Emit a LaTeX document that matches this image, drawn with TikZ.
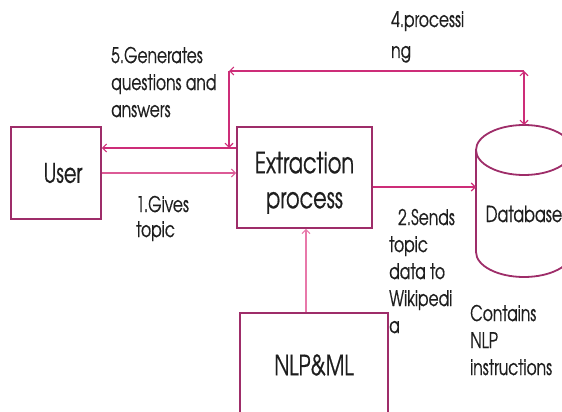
\documentclass[tikz,border=0pt]{standalone}
\usepackage{fontspec}
\setmainfont{texgyreadventor-regular.otf}[FakeStretch=0.72,FakeBold=0.6]
\usetikzlibrary{arrows.meta}
\definecolor{boxc}{RGB}{158,45,105}
\definecolor{flowc}{RGB}{205,45,120}
\definecolor{flowmid}{RGB}{220,90,150}
\definecolor{flowlight}{RGB}{232,120,170}
\definecolor{inkc}{RGB}{30,30,30}
\tikzset{
  box/.style={draw=boxc, line width=1.8pt, inner sep=0pt, text=inkc},
  flow/.style={draw=flowc, line width=1.1pt, -{Straight Barb[length=4pt,width=8pt]}},
  lbl/.style={font=\fontsize{21.5}{27}\selectfont, align=left, anchor=base west, inner sep=0pt, text=inkc}
}
\begin{document}
\begin{tikzpicture}[x=1pt,y=-1pt]
\useasboundingbox (0,0) rectangle (562,412);
\clip (0,0) rectangle (562,412);

% boxes
\node[box, minimum width=90pt, minimum height=92pt, font=\fontsize{27}{27}\selectfont] (user) at (56,173) {\hspace*{14pt}User};
\node[box, minimum width=135pt, minimum height=101pt, align=center, font=\fontsize{29}{35}\selectfont] (extr) at (304.5,177.5) {\rule{0pt}{32pt}Extraction\\process};
\node[box, minimum width=148pt, minimum height=104pt, font=\fontsize{28}{28}\selectfont] (nlp) at (314,365) {NLP\&ML};

% database cylinder
\draw[boxc, line width=1.8pt] (524,150) ellipse [x radius=48, y radius=25];
\draw[boxc, line width=1.8pt] (476,150) -- (476,252) arc[start angle=180, end angle=0, x radius=48, y radius=25] -- (572,150);
\node[font=\fontsize{22}{22}\selectfont, inner sep=0pt, anchor=base, text=inkc] (db) at (524,222) {Database};
\coordinate (dbtop) at (524,125);
\coordinate (dbwest) at (476,187);

% route of the feedback loop
\coordinate (ur) at (524,71);
\coordinate (ul) at (229,71);
\coordinate (ud) at (229,148);
\coordinate (nx) at (306,0);

% connectors
\draw[flow, draw=flowmid] (user.east) -- (user.east -| extr.west);
\draw[flow] (extr.west |- ud) -- (user.east |- ud);
\draw[flow] (extr.east |- dbwest) -- (dbwest);
\draw[flow, draw=flowlight] (nlp.north -| nx) -- (extr.south -| nx);
\draw[flow, {Straight Barb[length=4pt,width=8pt]}-{Straight Barb[length=4pt,width=8pt]}] (dbtop) -- (ur);
\draw[flow] (ur) -- (ul);
\draw[flow] (ul) -- (ud);

% labels (anchored at the baseline of their last line)
\node[lbl, font=\fontsize{21.5}{31}\selectfont] (l4) at (391,58) {4.processi\\ng};
\node[lbl] (l5) at (111,117) {5.Generates\\questions and\\answers};
\node[lbl, font=\fontsize{21.5}{25}\selectfont] (l1) at (136,237) {1.Gives\\topic};
\node[lbl] (l2) at (389,333) {\hspace*{9pt}2.Sends\\topic\\data to\\Wikipedi\\a};
\node[lbl] (l3) at (470,375) {Contains\\NLP\\instructions};
\end{tikzpicture}
\end{document}
